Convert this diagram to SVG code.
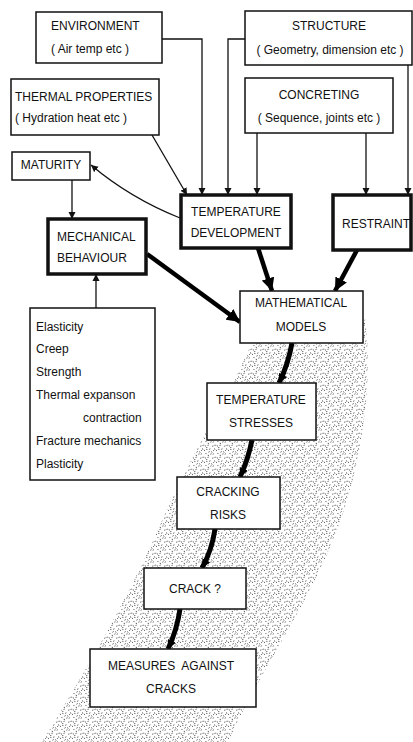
<svg xmlns="http://www.w3.org/2000/svg" width="413" height="742" viewBox="0 0 413 742">
<style>
.box{fill:#fff;stroke:#111;stroke-width:1.5}
.bold{fill:#fff;stroke:#111;stroke-width:3.5}
text{font-family:"Liberation Sans",Arial,sans-serif;font-size:12px;fill:#111}
.c{text-anchor:middle}
.thin{fill:none;stroke:#111;stroke-width:1.3}
.thick{fill:none;stroke:#000;stroke-width:4.5}
.chain{fill:none;stroke:#000;stroke-width:5}
</style>
<defs>
<marker id="a" viewBox="0 0 10 10" refX="10" refY="5" markerWidth="7" markerHeight="8" markerUnits="userSpaceOnUse" orient="auto"><path d="M0,0 L10,5 L0,10 Z" fill="#111"/></marker>
<marker id="A" viewBox="0 0 10 10" refX="10" refY="5" markerWidth="13" markerHeight="13" markerUnits="userSpaceOnUse" orient="auto"><path d="M0,0 L10,5 L0,10 Z" fill="#000"/></marker>
<marker id="C" viewBox="0 0 10 10" refX="10" refY="5" markerWidth="9" markerHeight="9" markerUnits="userSpaceOnUse" orient="auto"><path d="M0,0 L10,5 L0,10 Z" fill="#000"/></marker>
<pattern id="st" width="16" height="16" patternUnits="userSpaceOnUse" patternTransform="scale(0.75)">
<path d="M1 2 l1.5 1 M6 1 l-1 1.5 M11 3 l1.5 -0.5 M14 6 l0.5 1.5 M3 7 l1.5 0.5 M8 6 l-0.5 1.5 M2 12 l1 1.2 M6 11 l1.5 -1 M10 10 l0.8 1.4 M13 13 l-1.3 0.8 M5 15 l1.5 0.3 M9 14 l0.5 -1.4 M15 1 l-0.4 1.5 M0 9 l1.2 -0.8 M12 8 l1 1 M4 4 l-0.6 1.3" stroke="#222" stroke-width="1.1" fill="none"/>
</pattern>
</defs>
<path id="band" d="M365 318 C374 380 362 470 333 540 C305 610 255 680 228 742 L42 742 C80 680 128 600 160 525 C195 445 235 385 252 342 Z" fill="url(#st)"/>
<g id="connectors">
<path class="thin" d="M162 39 H202 V195" marker-end="url(#a)"/>
<path class="thin" d="M152 135 L187 195" marker-end="url(#a)"/>
<path class="thin" d="M245 39 H228 V195" marker-end="url(#a)"/>
<path class="thin" d="M257 133 V195" marker-end="url(#a)"/>
<path class="thin" d="M366 133 V195" marker-end="url(#a)"/>
<path class="thin" d="M408 65 V195" marker-end="url(#a)"/>
<path class="thin" d="M180 218 Q130 198 91 165" marker-end="url(#a)"/>
<path class="thin" d="M72 180 V219" marker-end="url(#a)"/>
<path class="thin" d="M96 308 V274" marker-end="url(#a)"/>
<path class="thick" d="M147 254 L240 322" marker-end="url(#A)"/>
<path class="thick" d="M258 248 L272 291" marker-end="url(#A)"/>
<path class="thick" d="M357 250 L335 291" marker-end="url(#A)"/>
<path class="chain" d="M292 343 Q288 365 279 383" marker-end="url(#C)"/>
<path class="chain" d="M252 440 Q248 460 240 477" marker-end="url(#C)"/>
<path class="chain" d="M215 529 Q212 550 202 568" marker-end="url(#C)"/>
<path class="chain" d="M180 609 Q177 630 168 649" marker-end="url(#C)"/>
</g>
<g id="environment"><rect class="box" x="36" y="12" width="126" height="51"/><text x="51" y="30">ENVIRONMENT</text><text x="51" y="53">( Air temp etc )</text></g>
<g id="thermal"><rect class="box" x="11" y="79" width="148" height="56"/><text x="15" y="101" font-size="11.4">THERMAL PROPERTIES</text><text x="15" y="122">( Hydration heat etc )</text></g>
<g id="structure"><rect class="box" x="245" y="11" width="167" height="54"/><text class="c" x="329" y="30">STRUCTURE</text><text class="c" x="330" y="54">( Geometry, dimension etc )</text></g>
<g id="concreting"><rect class="box" x="245" y="78" width="148" height="55"/><text class="c" x="319" y="99">CONCRETING</text><text class="c" x="319" y="122">( Sequence, joints etc )</text></g>
<g id="maturity"><rect class="box" x="12" y="152" width="78" height="28"/><text class="c" x="51" y="169">MATURITY</text></g>
<g id="mechanical"><rect class="bold" x="48" y="219" width="98" height="55"/><text x="57" y="241">MECHANICAL</text><text x="57" y="262">BEHAVIOUR</text></g>
<g id="tempdev"><rect class="bold" x="181" y="195" width="110" height="53"/><text class="c" x="236" y="216">TEMPERATURE</text><text class="c" x="236" y="237">DEVELOPMENT</text></g>
<g id="restraint"><rect class="bold" x="333" y="195" width="78" height="55"/><text class="c" x="376" y="228">RESTRAINT</text></g>
<g id="properties"><rect class="box" x="30" y="308" width="125" height="172"/>
<text x="36" y="331">Elasticity</text><text x="36" y="353">Creep</text><text x="36" y="376">Strength</text><text x="36" y="399">Thermal expanson</text><text x="83" y="422">contraction</text><text x="36" y="445">Fracture mechanics</text><text x="36" y="468">Plasticity</text></g>
<g id="models"><rect class="box" x="240" y="291" width="123" height="52"/><text class="c" x="301" y="307">MATHEMATICAL</text><text class="c" x="301" y="331">MODELS</text></g>
<g id="stresses"><rect class="box" x="207" y="383" width="109" height="57"/><text class="c" x="261" y="404">TEMPERATURE</text><text class="c" x="261" y="427">STRESSES</text></g>
<g id="risks"><rect class="box" x="177" y="477" width="103" height="52"/><text class="c" x="228" y="496">CRACKING</text><text class="c" x="228" y="519">RISKS</text></g>
<g id="crack"><rect class="box" x="144" y="568" width="102" height="41"/><text class="c" x="195" y="593">CRACK ?</text></g>
<g id="measures"><rect class="box" x="90" y="649" width="166" height="58"/><text class="c" x="171" y="670" xml:space="preserve">MEASURES  AGAINST</text><text class="c" x="171" y="693">CRACKS</text></g>
</svg>
